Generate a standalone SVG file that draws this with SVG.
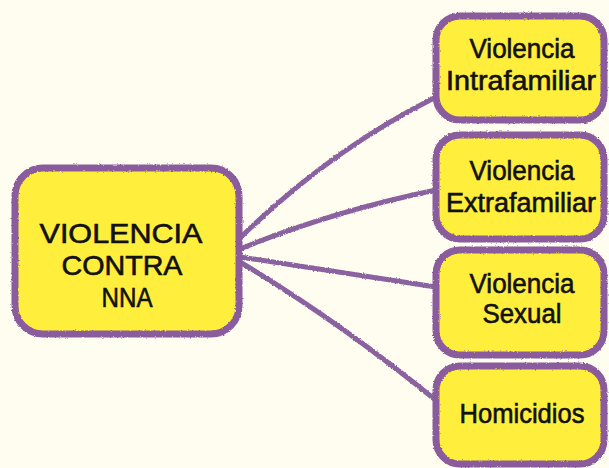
<svg xmlns="http://www.w3.org/2000/svg" width="609" height="468" viewBox="0 0 609 468">
  <defs>
    <filter id="rough" x="-5%" y="-5%" width="110%" height="110%">
      <feTurbulence type="fractalNoise" baseFrequency="0.6" numOctaves="2" seed="3" result="n"/>
      <feDisplacementMap in="SourceGraphic" in2="n" scale="2.5" xChannelSelector="R" yChannelSelector="G"/>
    </filter>
  </defs>
  <style>
    .box { fill: #FFEE3A; stroke: #8A5C9E; stroke-width: 7; }
    .edge { fill: none; stroke: #8A62A0; stroke-width: 5; stroke-linecap: round; }
    .t { font-family: "Liberation Sans", Arial, sans-serif; fill: #111; stroke: #111; stroke-width: 0.6; text-anchor: middle; }
    .big { font-size: 28px; }
    .small { font-size: 27px; }
  </style>
  <rect x="0" y="0" width="609" height="468" fill="#FEFDF0"/>
  <g id="connectors" filter="url(#rough)">
    <path class="edge" d="M240,238 Q330,150 436,97"/>
    <path class="edge" d="M240,249 Q330,212 436,190"/>
    <path class="edge" d="M240,257 Q340,272 436,287"/>
    <path class="edge" d="M240,262 Q340,322 438,402"/>
  </g>
  <g id="node-center">
    <rect class="box" x="15" y="168" width="224" height="166" rx="28" filter="url(#rough)"/>
    <text class="t big" x="121" y="243" textLength="163" lengthAdjust="spacingAndGlyphs">VIOLENCIA</text>
    <text class="t big" x="122" y="275" textLength="121" lengthAdjust="spacingAndGlyphs">CONTRA</text>
    <text class="t big" x="127" y="307" textLength="51" lengthAdjust="spacingAndGlyphs">NNA</text>
  </g>
  <g id="node-intrafamiliar">
    <rect class="box" x="436" y="16" width="168" height="104" rx="24" filter="url(#rough)"/>
    <text class="t small" x="522" y="58" textLength="105" lengthAdjust="spacingAndGlyphs">Violencia</text>
    <text class="t small" x="521" y="90" textLength="150" lengthAdjust="spacingAndGlyphs">Intrafamiliar</text>
  </g>
  <g id="node-extrafamiliar">
    <rect class="box" x="436" y="135" width="168" height="104" rx="24" filter="url(#rough)"/>
    <text class="t small" x="522" y="180" textLength="105" lengthAdjust="spacingAndGlyphs">Violencia</text>
    <text class="t small" x="521" y="212" textLength="150" lengthAdjust="spacingAndGlyphs">Extrafamiliar</text>
  </g>
  <g id="node-sexual">
    <rect class="box" x="436" y="250" width="168" height="105" rx="24" filter="url(#rough)"/>
    <text class="t small" x="522" y="293" textLength="105" lengthAdjust="spacingAndGlyphs">Violencia</text>
    <text class="t small" x="522" y="323" textLength="79" lengthAdjust="spacingAndGlyphs">Sexual</text>
  </g>
  <g id="node-homicidios">
    <rect class="box" x="436" y="366" width="168" height="98" rx="24" filter="url(#rough)"/>
    <text class="t small" x="522" y="423" textLength="125" lengthAdjust="spacingAndGlyphs">Homicidios</text>
  </g>
</svg>
